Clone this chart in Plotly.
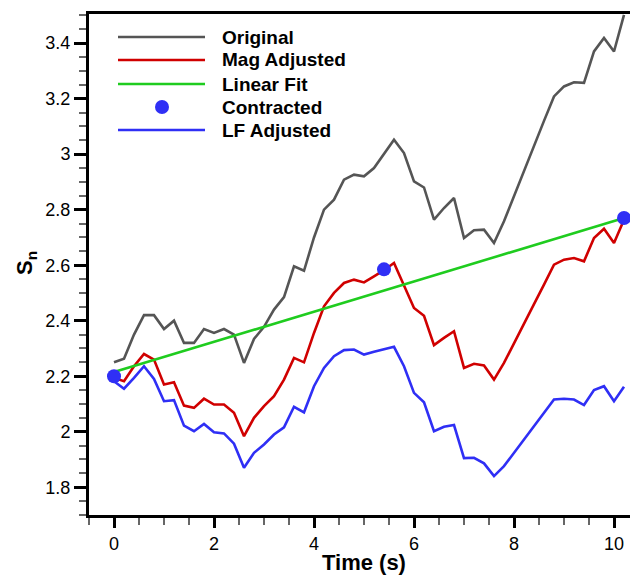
import plotly.graph_objects as go

# Time samples (s), every 0.2 s
time_s = [round(0.2 * i, 1) for i in range(52)]

original = [2.25, 2.263, 2.35, 2.42, 2.42, 2.37, 2.40, 2.32, 2.32, 2.37,
            2.356, 2.37, 2.35, 2.248, 2.334, 2.378, 2.44, 2.485, 2.596, 2.58,
            2.70, 2.80, 2.836, 2.908, 2.926, 2.92, 2.95, 3.0, 3.052, 3.004,
            2.902, 2.88, 2.764, 2.806, 2.842, 2.698, 2.726, 2.728, 2.68, 2.758,
            2.85, 2.94, 3.03, 3.12, 3.208, 3.244, 3.259, 3.257, 3.37, 3.419,
            3.37, 3.502]

mag_adjusted = [2.194, 2.182, 2.236, 2.28, 2.26, 2.17, 2.178, 2.094, 2.086, 2.119,
                2.098, 2.098, 2.068, 1.984, 2.05, 2.092, 2.128, 2.188, 2.266, 2.25,
                2.356, 2.452, 2.50, 2.536, 2.548, 2.538, 2.56, 2.582, 2.608, 2.524,
                2.446, 2.418, 2.312, 2.338, 2.362, 2.23, 2.245, 2.239, 2.188, 2.248,
                2.32, 2.39, 2.46, 2.53, 2.602, 2.62, 2.626, 2.614, 2.698, 2.731,
                2.68, 2.764]

lf_adjusted = [2.182, 2.155, 2.194, 2.236, 2.19, 2.11, 2.114, 2.022, 2.002, 2.028,
               1.998, 1.994, 1.957, 1.87, 1.924, 1.954, 1.99, 2.016, 2.09, 2.07,
               2.164, 2.23, 2.272, 2.294, 2.296, 2.278, 2.288, 2.296, 2.306, 2.236,
               2.14, 2.106, 2.002, 2.018, 2.024, 1.905, 1.906, 1.886, 1.84, 1.876,
               1.924, 1.972, 2.02, 2.068, 2.116, 2.119, 2.116, 2.096, 2.15, 2.164,
               2.11, 2.162]

fit_time = [0.0, 10.2]
fit_value = [2.215, 2.77]

contracted_time = [0.0, 5.4, 10.2]
contracted_value = [2.2, 2.585, 2.77]

x_ticks = [0, 2, 4, 6, 8, 10]
y_ticks = [1.8, 2.0, 2.2, 2.4, 2.6, 2.8, 3.0, 3.2, 3.4]
y_tick_text = ["1.8", "2", "2.2", "2.4", "2.6", "2.8", "3", "3.2", "3.4"]

legend_names = ["Original", "Mag Adjusted", "Linear Fit", "Contracted", "LF Adjusted"]

GRAY = "#555555"
RED = "#d00000"
GREEN = "#1fcc1f"
BLUE = "#2f2ff5"
FONT = "Arial, Liberation Sans, sans-serif"
LW = 2.6

fig = go.Figure()
fig.add_trace(go.Scatter(x=time_s, y=original, mode="lines",
                         line=dict(color=GRAY, width=LW), name=legend_names[0]))
fig.add_trace(go.Scatter(x=time_s, y=mag_adjusted, mode="lines",
                         line=dict(color=RED, width=LW), name=legend_names[1]))
fig.add_trace(go.Scatter(x=fit_time, y=fit_value, mode="lines",
                         line=dict(color=GREEN, width=LW), name=legend_names[2]))
fig.add_trace(go.Scatter(x=time_s, y=lf_adjusted, mode="lines",
                         line=dict(color=BLUE, width=LW), name=legend_names[4]))
fig.add_trace(go.Scatter(x=contracted_time, y=contracted_value, mode="markers",
                         marker=dict(color=BLUE, size=14, line=dict(width=0)),
                         cliponaxis=False, name=legend_names[3]))

# Hand-drawn legend block in the upper-left corner
W_PLOT = 630 - 89
H_PLOT = 575 - 14 - 60
def px_x(p):
    return (p - 89) / W_PLOT
def px_y(p):
    return (515 - p) / H_PLOT

legend_rows = [(legend_names[0], GRAY, "line"), (legend_names[1], RED, "line"),
               (legend_names[2], GREEN, "line"), (legend_names[3], BLUE, "dot"),
               (legend_names[4], BLUE, "line")]
row_y = [37, 60, 84, 107, 130]
shapes = []
annotations = []
for (name, color, kind), yp in zip(legend_rows, row_y):
    yy = px_y(yp)
    if kind == "line":
        shapes.append(dict(type="line", xref="paper", yref="paper",
                           x0=px_x(118), x1=px_x(205), y0=yy, y1=yy,
                           line=dict(color=color, width=LW)))
    else:
        shapes.append(dict(type="circle", xref="paper", yref="paper",
                           xsizemode="pixel", ysizemode="pixel",
                           xanchor=px_x(162), yanchor=yy,
                           x0=-7, x1=7, y0=-7, y1=7,
                           fillcolor=color, line=dict(width=0)))
    annotations.append(dict(xref="paper", yref="paper", x=px_x(220), y=yy,
                            xanchor="left", yanchor="middle", showarrow=False,
                            text="<b>%s</b>" % name,
                            font=dict(family=FONT, size=19, color="black")))

annotations.append(dict(xref="paper", yref="paper", x=px_x(364), y=px_y(562),
                        xanchor="center", yanchor="middle", showarrow=False,
                        text="<b>Time (s)</b>",
                        font=dict(family=FONT, size=22, color="black")))
annotations.append(dict(xref="paper", yref="paper", x=px_x(26), y=px_y(263),
                        xanchor="center", yanchor="middle", showarrow=False,
                        textangle=-90, text="<b>S<sub>n</sub></b>",
                        font=dict(family=FONT, size=22, color="black")))

fig.update_layout(
    width=630, height=575,
    margin=dict(l=89, r=0, t=14, b=60),
    paper_bgcolor="white", plot_bgcolor="white",
    showlegend=False,
    shapes=shapes, annotations=annotations,
    font=dict(family=FONT, color="black"),
)
fig.update_xaxes(
    range=[-0.5, 10.32], tickvals=x_ticks, ticks="outside", ticklen=10, tickwidth=2.5,
    tickcolor="black", showline=True, linecolor="black", linewidth=3, mirror=True,
    showgrid=False, zeroline=False, tickfont=dict(family=FONT, size=18, color="black"),
    minor=dict(dtick=0.5, tick0=0, ticks="outside", ticklen=7, tickwidth=1.5,
               tickcolor="#666666", showgrid=False),
)
fig.update_yaxes(
    range=[1.7, 3.505], tickvals=y_ticks, ticktext=y_tick_text, ticks="outside",
    ticklen=12, tickwidth=2.5, tickcolor="black", showline=True, linecolor="black",
    linewidth=3, mirror=False, showgrid=False, zeroline=False,
    tickfont=dict(family=FONT, size=18, color="black"),
    minor=dict(dtick=0.05, tick0=0, ticks="outside", ticklen=7, tickwidth=1.5,
               tickcolor="#666666", showgrid=False),
)

fig.write_html("out.html")
